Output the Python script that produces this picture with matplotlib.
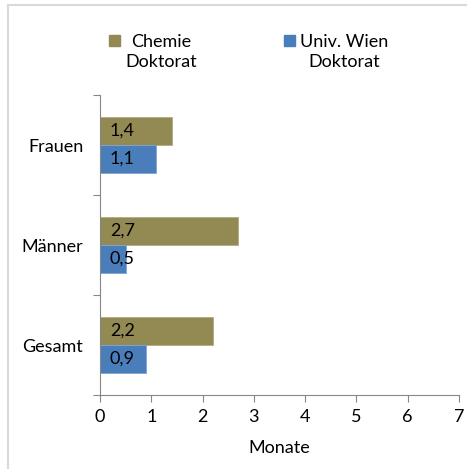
import matplotlib
matplotlib.use("Agg")
import matplotlib.pyplot as plt
from matplotlib.patches import Rectangle
from matplotlib.lines import Line2D
import numpy as np

plt.rcParams['font.family'] = ['Lato', 'DejaVu Sans']

categories = ['Gesamt', 'Männer', 'Frauen']
chemie = [2.2, 2.7, 1.4]
uniwien = [0.9, 0.5, 1.1]
chemie_labels = ['2,2', '2,7', '1,4']
uniwien_labels = ['0,9', '0,5', '1,1']
series_names = ['Chemie\nDoktorat', 'Univ. Wien\nDoktorat']
xticks = [0, 1, 2, 3, 4, 5, 6, 7]

col_chemie = '#938953'
col_wien = '#4a7ebb'
grey = '#868686'
fs = 13

fig = plt.figure(figsize=(4.67, 4.69), dpi=100)
ax = fig.add_axes([100 / 467, 1 - 395 / 469, 359 / 467, 300 / 469])

y = np.arange(len(categories))
h = 0.28
b1 = ax.barh(y + h / 2, chemie, height=h, color=col_chemie,
             edgecolor='#b3ab86', linewidth=0.6)
b2 = ax.barh(y - h / 2, uniwien, height=h, color=col_wien,
             edgecolor='#7fa4d3', linewidth=0.6)

for bars, labels in [(b1, chemie_labels), (b2, uniwien_labels)]:
    for bar, lab in zip(bars, labels):
        ax.annotate(lab, (0, bar.get_y() + bar.get_height() / 2),
                    xytext=(7, 0), textcoords='offset points',
                    ha='left', va='center', fontsize=fs, color='black')

ax.set_xlim(0, 7)
ax.set_ylim(-0.5, 2.5)
ax.set_xticks(xticks)
ax.set_xticklabels([str(t) for t in xticks], fontsize=fs)
ax.set_yticks([-0.5, 0.5, 1.5, 2.5])
ax.set_yticklabels([])
ax.set_yticks(y, minor=True)
ax.set_yticklabels(categories, minor=True, fontsize=fs)
ax.tick_params(axis='y', which='minor', length=0, pad=12)
ax.tick_params(axis='y', which='major', length=5, color=grey, width=0.8)
ax.tick_params(axis='x', length=5, color=grey, width=0.8, pad=5)
ax.set_xlabel('Monate', fontsize=fs, labelpad=11)

for s in ['top', 'right']:
    ax.spines[s].set_visible(False)
for s in ['left', 'bottom']:
    ax.spines[s].set_color(grey)
    ax.spines[s].set_linewidth(0.8)

# legend drawn by hand above the plot area
fig.add_artist(Rectangle((109 / 467, 1 - 46 / 469), 11 / 467, 11 / 469,
                         transform=fig.transFigure, color=col_chemie))
fig.add_artist(Rectangle((284 / 467, 1 - 46 / 469), 11 / 467, 11 / 469,
                         transform=fig.transFigure, color=col_wien))
fig.text(161 / 467, 1 - 52 / 469, series_names[0], ha='center', va='center',
         multialignment='center', fontsize=fs, linespacing=1.35)
fig.text(344 / 467, 1 - 52 / 469, series_names[1], ha='center', va='center',
         multialignment='center', fontsize=fs, linespacing=1.35)

# outer chart frame
fig.add_artist(Line2D([7.5 / 467, 1], [1 - 5 / 469, 1 - 5 / 469],
                      transform=fig.transFigure, color='#d9d9d9', lw=1.5))
fig.add_artist(Line2D([7.5 / 467, 7.5 / 467], [1 - 5 / 469, 0],
                      transform=fig.transFigure, color='#d9d9d9', lw=1.5))

fig.savefig('out.png', dpi=100)
